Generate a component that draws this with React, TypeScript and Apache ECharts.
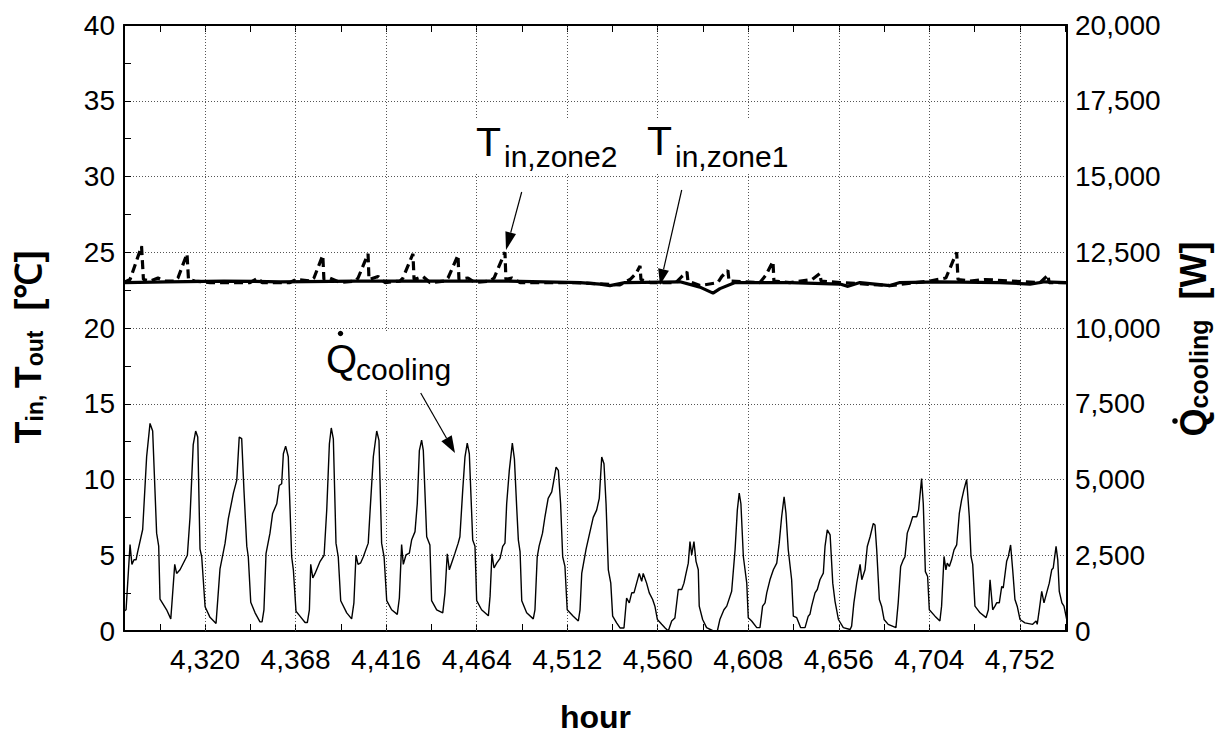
import React, { useEffect, useRef } from "react";
import * as echarts from "echarts";

// ---- data ----
const labelHours = [4320, 4368, 4416, 4464, 4512, 4560, 4608, 4656, 4704, 4752];
const tickHours = [4296, 4320, 4344, 4368, 4392, 4416, 4440, 4464, 4488, 4512, 4536, 4560, 4584, 4608, 4632, 4656, 4680, 4704, 4728, 4752, 4776];

const qHours = [4277.0, 4278.1, 4280.2, 4281.2, 4282.3, 4283.4, 4284.1, 4286.9, 4289.0, 4290.8, 4292.2, 4294.3, 4295.4, 4296.1, 4299.6, 4301.8, 4302.4, 4303.9, 4304.9, 4306.7, 4310.6, 4312.0, 4313.7, 4315.0, 4316.1, 4317.3, 4318.2, 4320.0, 4322.6, 4325.8, 4327.9, 4330.6, 4332.3, 4335.0, 4336.8, 4338.1, 4339.4, 4340.6, 4342.1, 4342.9, 4344.2, 4346.5, 4349.1, 4350.2, 4351.2, 4352.3, 4354.4, 4355.8, 4358.0, 4359.3, 4360.6, 4361.5, 4362.7, 4364.1, 4365.9, 4366.8, 4368.2, 4370.3, 4373.0, 4374.2, 4375.3, 4376.0, 4377.1, 4378.3, 4381.0, 4383.1, 4384.5, 4385.9, 4386.9, 4388.0, 4389.4, 4390.6, 4391.9, 4395.1, 4397.7, 4398.9, 4400.0, 4401.1, 4402.5, 4403.9, 4406.5, 4407.4, 4409.2, 4411.0, 4412.2, 4413.6, 4414.9, 4416.3, 4418.9, 4421.9, 4423.0, 4424.2, 4425.1, 4426.5, 4428.3, 4429.5, 4431.3, 4432.5, 4433.6, 4434.8, 4435.7, 4437.5, 4439.2, 4440.1, 4442.8, 4446.0, 4447.2, 4448.4, 4449.5, 4451.3, 4452.5, 4454.2, 4455.1, 4456.6, 4457.8, 4459.0, 4460.1, 4461.9, 4463.1, 4464.0, 4466.6, 4470.2, 4471.1, 4472.1, 4473.2, 4474.6, 4476.4, 4477.8, 4479.0, 4479.9, 4481.3, 4482.9, 4484.0, 4485.2, 4486.1, 4487.0, 4487.9, 4490.5, 4494.0, 4494.9, 4496.1, 4497.1, 4498.9, 4500.2, 4501.9, 4503.8, 4504.6, 4506.1, 4507.3, 4508.5, 4509.6, 4510.8, 4512.0, 4515.2, 4517.9, 4518.8, 4519.7, 4522.0, 4523.7, 4525.8, 4527.6, 4529.0, 4530.3, 4531.5, 4532.6, 4533.8, 4535.1, 4536.1, 4538.2, 4540.0, 4542.1, 4543.5, 4544.9, 4546.2, 4547.4, 4548.8, 4550.2, 4551.5, 4552.3, 4554.1, 4555.5, 4557.3, 4558.5, 4559.8, 4562.1, 4563.8, 4565.6, 4567.4, 4569.1, 4570.9, 4572.7, 4573.9, 4575.0, 4576.2, 4577.1, 4578.0, 4579.2, 4580.3, 4581.5, 4582.0, 4583.8, 4585.9, 4589.5, 4591.6, 4593.0, 4595.1, 4596.6, 4599.2, 4601.0, 4602.2, 4603.2, 4604.1, 4605.4, 4607.2, 4608.0, 4609.8, 4612.5, 4614.2, 4615.6, 4616.9, 4617.8, 4619.5, 4621.3, 4623.1, 4624.4, 4625.7, 4627.0, 4628.0, 4629.2, 4631.0, 4631.9, 4633.7, 4635.8, 4638.1, 4639.8, 4640.7, 4641.6, 4643.4, 4644.6, 4646.0, 4647.8, 4648.7, 4649.9, 4651.4, 4652.8, 4654.0, 4655.8, 4658.4, 4662.0, 4662.8, 4664.0, 4665.5, 4667.3, 4668.2, 4669.9, 4671.1, 4672.6, 4674.3, 4675.2, 4676.1, 4677.5, 4678.7, 4680.0, 4682.2, 4686.3, 4687.5, 4688.8, 4690.2, 4691.1, 4692.3, 4693.7, 4695.2, 4697.3, 4698.3, 4699.9, 4700.8, 4701.9, 4703.1, 4704.0, 4707.0, 4709.6, 4710.5, 4711.8, 4712.8, 4713.5, 4714.6, 4715.8, 4717.1, 4718.5, 4719.9, 4721.1, 4722.3, 4723.8, 4725.2, 4726.1, 4727.0, 4728.2, 4730.9, 4734.1, 4735.3, 4736.2, 4737.6, 4738.8, 4739.7, 4741.1, 4742.4, 4743.2, 4745.0, 4745.9, 4747.1, 4748.2, 4749.4, 4750.6, 4752.1, 4754.7, 4758.8, 4760.6, 4761.2, 4762.3, 4763.6, 4764.8, 4766.2, 4767.6, 4768.9, 4769.7, 4771.2, 4772.1, 4772.9, 4774.3, 4775.4, 4776.8];
const qWatts = [650, 700, 2850, 2200, 2350, 2350, 2570, 3350, 5750, 6850, 6600, 3230, 2800, 1050, 700, 400, 900, 2200, 1900, 2020, 2500, 3750, 6150, 6600, 6400, 2700, 2450, 800, 450, 250, 2050, 2900, 3700, 4550, 4980, 6400, 6350, 4650, 2800, 2450, 950, 600, 300, 300, 700, 2550, 3230, 3880, 4200, 4800, 4860, 5850, 6100, 5750, 2450, 2020, 650, 490, 280, 280, 700, 2200, 1750, 1900, 2300, 2500, 4000, 6180, 6700, 6340, 2900, 2450, 1000, 600, 400, 930, 2500, 2200, 2250, 2450, 2900, 3880, 5750, 6600, 6290, 2900, 2450, 1000, 700, 550, 1090, 2850, 2200, 2510, 2570, 3000, 3280, 4200, 5950, 6300, 5960, 3110, 2840, 1000, 700, 600, 1260, 2550, 2020, 2350, 2570, 2900, 3110, 4650, 5750, 6200, 5850, 3000, 2800, 1000, 700, 500, 1150, 2550, 2080, 2240, 2400, 2790, 2900, 4200, 5300, 6200, 5680, 4100, 3000, 2620, 1000, 600, 400, 700, 2450, 2800, 3230, 3770, 4380, 4590, 4860, 5410, 5300, 4200, 2450, 2130, 700, 490, 330, 700, 1900, 2700, 3170, 3750, 3990, 4380, 5740, 5520, 4200, 2020, 1580, 490, 270, 100, 100, 1090, 930, 1260, 1260, 1580, 1900, 1640, 1900, 1580, 1260, 1040, 820, 380, 220, 110, 0, 330, 430, 1370, 1370, 1580, 1900, 2240, 2950, 2510, 2950, 2300, 2020, 820, 380, 110, 0, 0, 390, 700, 820, 1310, 2680, 3990, 4550, 4200, 2450, 1580, 440, 330, 110, 110, 820, 930, 1260, 1690, 2020, 2240, 2900, 3770, 4430, 3880, 2680, 1690, 490, 440, 110, 110, 490, 550, 820, 1260, 1370, 1690, 1910, 2790, 3340, 3170, 1580, 980, 380, 110, 50, 160, 930, 1580, 2200, 1690, 2020, 2790, 3110, 3550, 3500, 2680, 1040, 820, 380, 220, 110, 930, 2130, 2350, 2450, 3230, 3470, 3770, 3770, 3990, 5030, 4200, 1960, 1800, 700, 490, 330, 820, 2460, 2020, 2240, 2130, 2350, 2680, 2840, 3880, 4320, 4650, 5000, 3770, 2460, 2200, 820, 600, 440, 700, 1690, 700, 820, 930, 930, 1470, 1420, 2300, 2460, 2840, 2020, 1040, 820, 380, 270, 220, 330, 220, 700, 1310, 930, 1260, 1580, 2020, 2080, 2790, 2350, 1310, 930, 820, 390];

const zone1Hours = [4277.0, 4300, 4330, 4360, 4400, 4440, 4480, 4518.8, 4529.4, 4534.7, 4542.6, 4571.8, 4582.4, 4589.3, 4593.0, 4601.0, 4630, 4656.6, 4660.9, 4667.2, 4683.1, 4688.4, 4709.6, 4741.5, 4757.4, 4765.3, 4776.5];
const zone1Temps = [23.0, 23.05, 23.1, 23.05, 23.1, 23.1, 23.1, 23.0, 22.9, 22.8, 23.0, 23.05, 22.7, 22.3, 22.6, 23.0, 23.0, 22.9, 22.75, 23.0, 22.8, 23.0, 23.05, 23.0, 22.9, 23.05, 23.0];

const zone2Hours = [4277.0, 4280.2, 4286.3, 4287.3, 4290.8, 4295.0, 4298.7, 4304.0, 4305.6, 4310.4, 4311.2, 4314.6, 4322.6, 4343.8, 4348.0, 4350.2, 4365.0, 4368.2, 4375.6, 4377.7, 4382.4, 4383.0, 4386.2, 4391.5, 4399.5, 4401.1, 4406.4, 4406.9, 4411.7, 4415.4, 4423.3, 4424.9, 4430.2, 4430.8, 4435.5, 4439.2, 4447.2, 4448.8, 4454.1, 4454.6, 4459.4, 4463.1, 4471.1, 4473.2, 4479.0, 4479.5, 4482.7, 4487.0, 4508.2, 4516.1, 4540.0, 4545.3, 4548.5, 4550.6, 4551.1, 4555.9, 4569.7, 4572.8, 4575.5, 4576.0, 4582.4, 4591.9, 4594.0, 4597.2, 4597.8, 4614.2, 4617.4, 4621.1, 4621.6, 4630.1, 4641.8, 4646.0, 4646.6, 4656.6, 4683.1, 4704.3, 4712.8, 4718.5, 4719.2, 4725.5, 4733.5, 4762.7, 4765.3, 4766.9, 4767.5, 4776.4];
const zone2Temps = [23.0, 23.2, 25.4, 23.2, 23.1, 23.3, 23.1, 23.1, 23.3, 24.9, 23.2, 23.1, 23.0, 23.0, 23.3, 23.0, 23.0, 23.2, 23.1, 23.3, 24.8, 23.2, 23.3, 23.0, 23.1, 23.3, 24.9, 23.2, 23.4, 23.0, 23.1, 23.3, 24.9, 23.2, 23.4, 23.0, 23.1, 23.3, 24.8, 23.2, 23.3, 23.0, 23.1, 23.3, 25.0, 23.2, 23.3, 23.0, 23.0, 23.0, 22.85, 23.2, 23.6, 24.1, 23.2, 23.0, 23.0, 23.4, 23.7, 23.1, 22.8, 23.0, 23.4, 23.8, 23.1, 23.0, 23.5, 24.4, 23.1, 23.0, 23.2, 23.6, 23.1, 23.0, 22.8, 23.1, 23.3, 25.0, 23.2, 23.1, 23.2, 23.0, 23.3, 23.5, 23.0, 23.0];

const FONT = "'Liberation Sans', Arial, Helvetica, sans-serif";

const fmt = (v: number) => Math.round(v).toLocaleString("en-US");

function arrow(x1: number, y1: number, x2: number, y2: number, len: number, half: number) {
  const dx = x2 - x1, dy = y2 - y1;
  const d = Math.sqrt(dx * dx + dy * dy);
  const ux = dx / d, uy = dy / d;
  const bx = x2 - ux * len, by = y2 - uy * len;
  return [
    { type: "line", shape: { x1, y1, x2: bx, y2: by }, style: { stroke: "#000", lineWidth: 1.2 }, z: 10 },
    {
      type: "polygon",
      shape: { points: [[x2, y2], [bx - uy * half, by + ux * half], [bx + uy * half, by - ux * half]] },
      style: { fill: "#000" },
      z: 10,
    },
  ];
}

export default function App() {
  const ref = useRef<HTMLDivElement>(null);
  useEffect(() => {
    if (!ref.current) return;
    const chart = echarts.init(ref.current, undefined, { renderer: "svg" });
    const txt = (text: string, x: number, y: number, size: number, extra: any = {}) => ({
      type: "text",
      x,
      y,
      z: 11,
      style: { text, fontFamily: FONT, fontSize: size, fill: "#000", align: "left", verticalAlign: "middle", ...extra },
    });
    const whiteBox = (x: number, y: number, w: number, h: number) => ({
      type: "rect",
      shape: { x, y, width: w, height: h },
      style: { fill: "#fff" },
      z: 9,
    });
    const option: any = {
      animation: false,
      backgroundColor: "#fff",
      grid: { left: 124, right: 160, top: 25, bottom: 103, containLabel: false },
      xAxis: [
        {
          type: "value",
          min: 4277,
          max: 4777,
          position: "bottom",
          name: "hour",
          nameLocation: "middle",
          nameGap: 70,
          nameTextStyle: { fontFamily: FONT, fontSize: 32, fontWeight: "bold", color: "#000" },
          axisLine: { show: true, onZero: false, lineStyle: { color: "#000", width: 2 } },
          axisTick: { show: true, inside: true, length: 7, customValues: tickHours, lineStyle: { color: "#000", width: 1 } },
          axisLabel: { customValues: labelHours, formatter: (v: number) => fmt(v), fontFamily: FONT, fontSize: 28, color: "#000", margin: 14 },
          splitLine: { show: false },
        },
        {
          type: "value",
          min: 4277,
          max: 4777,
          position: "top",
          axisLine: { show: true, onZero: false, lineStyle: { color: "#000", width: 2 } },
          axisTick: { show: true, inside: true, length: 7, customValues: tickHours, lineStyle: { color: "#000", width: 1 } },
          axisLabel: { show: false },
          splitLine: { show: false },
        },
      ],
      yAxis: [
        {
          type: "value",
          min: 0,
          max: 40,
          interval: 5,
          position: "left",
          axisLine: { show: true, onZero: false, lineStyle: { color: "#000", width: 2 } },
          axisTick: { show: true, inside: true, length: 7, lineStyle: { color: "#000", width: 1 } },
          minorTick: { show: true, splitNumber: 2, length: 7, lineStyle: { color: "#000", width: 1 } },
          axisLabel: { fontFamily: FONT, fontSize: 28, color: "#000", margin: 9 },
          splitLine: { show: true, lineStyle: { color: "#555", width: 1, type: [1, 2] } },
        },
        {
          type: "value",
          min: 0,
          max: 20000,
          interval: 2500,
          position: "right",
          axisLine: { show: true, onZero: false, lineStyle: { color: "#000", width: 2 } },
          axisTick: { show: false },
          axisLabel: { formatter: (v: number) => fmt(v), fontFamily: FONT, fontSize: 28, color: "#000", margin: 8 },
          splitLine: { show: false },
        },
      ],
      series: [
        {
          name: "Q_cooling",
          type: "line",
          xAxisIndex: 0,
          yAxisIndex: 1,
          data: qHours.map((h, i) => [h, qWatts[i]]),
          symbol: "none",
          lineStyle: { color: "#000", width: 1.4 },
          z: 3,
          markLine: {
            silent: true,
            symbol: ["none", "none"],
            label: { show: false },
            lineStyle: { color: "#555", width: 1, type: [1, 2] },
            data: labelHours.map((h) => ({ xAxis: h })),
            z: 1,
          },
        },
        {
          name: "T_in,zone1",
          type: "line",
          xAxisIndex: 0,
          yAxisIndex: 0,
          data: zone1Hours.map((h, i) => [h, zone1Temps[i]]),
          symbol: "none",
          lineStyle: { color: "#000", width: 3.2 },
          z: 4,
        },
        {
          name: "T_in,zone2",
          type: "line",
          xAxisIndex: 0,
          yAxisIndex: 0,
          data: zone2Hours.map((h, i) => [h, zone2Temps[i]]),
          symbol: "none",
          lineStyle: { color: "#000", width: 3.2, type: [9, 5] },
          z: 5,
        },
      ],
      graphic: [
        whiteBox(470, 118, 152, 54),
        whiteBox(640, 118, 152, 54),
        whiteBox(322, 331, 138, 57),
        txt("T", 476, 142, 41),
        txt("in,zone2", 504, 156.5, 30),
        txt("T", 647, 141, 41),
        txt("in,zone1", 675, 156.5, 30),
        txt("Q", 326, 359, 40),
        { type: "circle", shape: { cx: 340.5, cy: 333.5, r: 2.7 }, style: { fill: "#000" }, z: 11 },
        txt("cooling", 356, 369.5, 30),
        ...arrow(521.7, 192, 506, 250, 18, 5.5),
        ...arrow(681.7, 190, 660, 285, 16, 5.5),
        ...arrow(420.7, 393, 455, 453, 17, 6),
        {
          type: "text",
          x: 28,
          y: 347,
          rotation: Math.PI / 2,
          z: 11,
          style: {
            text: "{m|T}{s|in, }{m|T}{s|out}{m|  [℃]}",
            align: "center",
            verticalAlign: "middle",
            fill: "#000",
            rich: {
              m: { fontFamily: FONT, fontSize: 36, fontWeight: "bold", lineHeight: 36, verticalAlign: "bottom", fill: "#000" },
              s: { fontFamily: FONT, fontSize: 23, fontWeight: "bold", lineHeight: 23, verticalAlign: "bottom", fill: "#000" },
            },
          },
        },
        {
          type: "text",
          x: 1193,
          y: 339,
          rotation: Math.PI / 2,
          z: 11,
          style: {
            text: "{m|Q}{s|cooling}{m|  [W]}",
            align: "center",
            verticalAlign: "middle",
            fill: "#000",
            rich: {
              m: { fontFamily: FONT, fontSize: 36, fontWeight: "bold", lineHeight: 36, verticalAlign: "bottom", fill: "#000" },
              s: { fontFamily: FONT, fontSize: 25, fontWeight: "bold", lineHeight: 25, verticalAlign: "bottom", fill: "#000" },
            },
          },
        },
        { type: "circle", shape: { cx: 1175, cy: 421, r: 2.8 }, style: { fill: "#000" }, z: 11 },
      ],
    };
    chart.setOption(option);
    return () => chart.dispose();
  }, []);
  return <div ref={ref} style={{ position: "fixed", left: 0, top: 0, width: 1227, height: 738, background: "#fff" }} />;
}
